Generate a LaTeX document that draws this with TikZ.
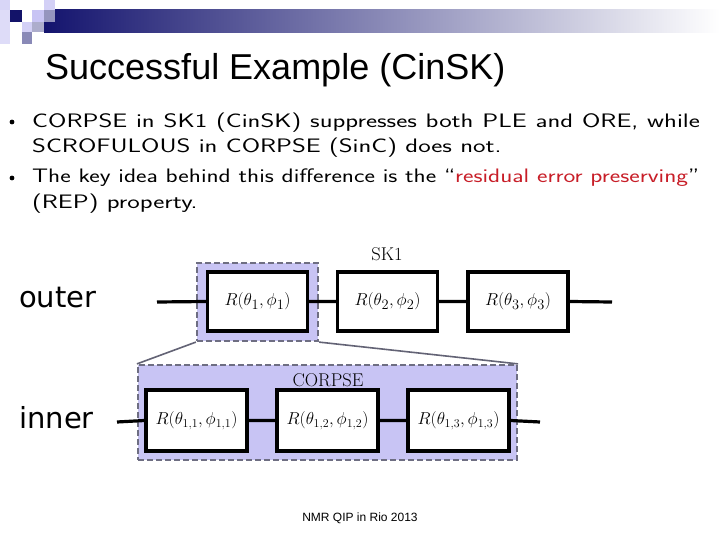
\documentclass[tikz,border=0pt]{standalone}
\usepackage{fontspec}
\usepackage{graphicx}
\setmainfont{Latin Modern Roman}
\newfontfamily\arial{Liberation Sans}
\newfontfamily\verd{DejaVu Sans}
\usetikzlibrary{calc}
\definecolor{navy}{RGB}{20,20,110}
\definecolor{lav}{RGB}{200,196,244}
\definecolor{dgray}{RGB}{110,110,130}
\definecolor{redt}{RGB}{200,30,40}
\newcommand{\widetxt}[1]{\scalebox{1.36}[1]{#1}}
\begin{document}
\begin{tikzpicture}[x=1pt,y=-1pt,
  gate/.style={draw=black,line width=3.2pt,fill=white,minimum width=100pt,minimum height=59pt,inner sep=0pt,font=\fontsize{19}{19}\selectfont},
  igate/.style={gate,minimum width=101pt,minimum height=61pt,font=\fontsize{18.5}{18.5}\selectfont},
  hlbox/.style={draw=dgray,fill=lav,dashed,dash pattern=on 6pt off 3pt,line width=2.2pt,inner sep=0pt},
  wire/.style={line width=3.2pt},
  zoomline/.style={draw=dgray!90!black,line width=1.6pt},
  btxt/.style={anchor=base west,inner sep=0pt,font=\sffamily\fontsize{19.5}{19.5}\selectfont},
  lbl/.style={inner sep=0pt,font=\fontsize{18.5}{18.5}\selectfont}
]
\useasboundingbox (0,0) rectangle (720,540);
\fill[white] (0,0) rectangle (720,540);
% header decoration
\shade[left color=navy,right color=white] (44,10) rectangle (720,33);
\fill[navy!95!black] (10,10) rectangle (22,22);
\fill[lav!70!white] (0,0) rectangle (10,10);
\fill[lav!60!white] (0,10) rectangle (10,44);
\fill[lav!80!white] (44,0) rectangle (55,10);
\fill[lav] (32,10) rectangle (44,22);
\fill[navy!45!white] (44,10) rectangle (55,22);
\fill[lav!80!white] (22,22) rectangle (32,32);
\fill[navy!35!white] (32,22) rectangle (44,32);
\fill[navy!50!white] (22,32) rectangle (32,44);
% title
\node[anchor=base west,inner sep=0pt,font=\arial\fontsize{36}{36}\selectfont] (title) at (45,80) {Successful Example (CinSK)};
% bullets
\fill (12,122) circle (2.4pt);
\fill (12,178) circle (2.4pt);
\node[btxt] (l1) at (32,127.5) {\widetxt{\makebox[491pt][s]{CORPSE in SK1 (CinSK) suppresses both PLE and ORE, while}}};
\node[btxt] (l2) at (32,153) {\widetxt{SCROFULOUS in CORPSE (SinC) does not.}};
\node[btxt] (l3) at (32,183) {\resizebox{667pt}{\height}{The key idea behind this difference is the ``\textcolor{redt}{residual error preserving}''}};
\node[btxt] (l4) at (32,209) {\widetxt{(REP) property.}};
% labels
\node[anchor=west,inner sep=0pt,font=\verd\fontsize{29}{29}\selectfont] (outer) at (19,298) {outer};
\node[anchor=west,inner sep=0pt,font=\verd\fontsize{29}{29}\selectfont] (inner) at (19,418) {inner};
% outer level
\node[hlbox,minimum width=121pt,minimum height=78pt] (hl) at (257.5,302) {};
\node[hlbox,minimum width=379pt,minimum height=95pt] (ib) at (327.5,412.5) {};
\draw[zoomline] (hl.south west) -- (ib.north west);
\draw[zoomline] (hl.south east) -- (ib.north east);
\node[lbl] (sk) at (387,254) {SK1};
\node[lbl] (corpse) at (328,380) {CORPSE};
\coordinate (oa) at (157,302);
\coordinate (ob) at (612,302);
\node[gate] (g1) at (257.5,301.5) {$R(\theta_1,\phi_1)$};
\node[gate] (g2) at (387.5,301.5) {$R(\theta_2,\phi_2)$};
\node[gate] (g3) at (518,301.5) {$R(\theta_3,\phi_3)$};
\draw[wire] (oa) -- (g1.west) (g1.east) -- (g2.west) (g2.east) -- (g3.west) (g3.east) -- (ob);
% inner level
\coordinate (ia) at (117,422);
\coordinate (ie) at (540,422);
\node[igate] (h1) at (196.5,420.5) {$R(\theta_{1,1},\phi_{1,1})$};
\node[igate] (h2) at (327.5,420.5) {$R(\theta_{1,2},\phi_{1,2})$};
\node[igate] (h3) at (458.5,420.5) {$R(\theta_{1,3},\phi_{1,3})$};
\draw[wire] (ia) -- (h1.west) (h1.east) -- (h2.west) (h2.east) -- (h3.west) (h3.east) -- (ie);
% footer
\node[font=\arial\fontsize{12}{12}\selectfont] (foot) at (360,518) {NMR QIP in Rio 2013};
\end{tikzpicture}
\end{document}
